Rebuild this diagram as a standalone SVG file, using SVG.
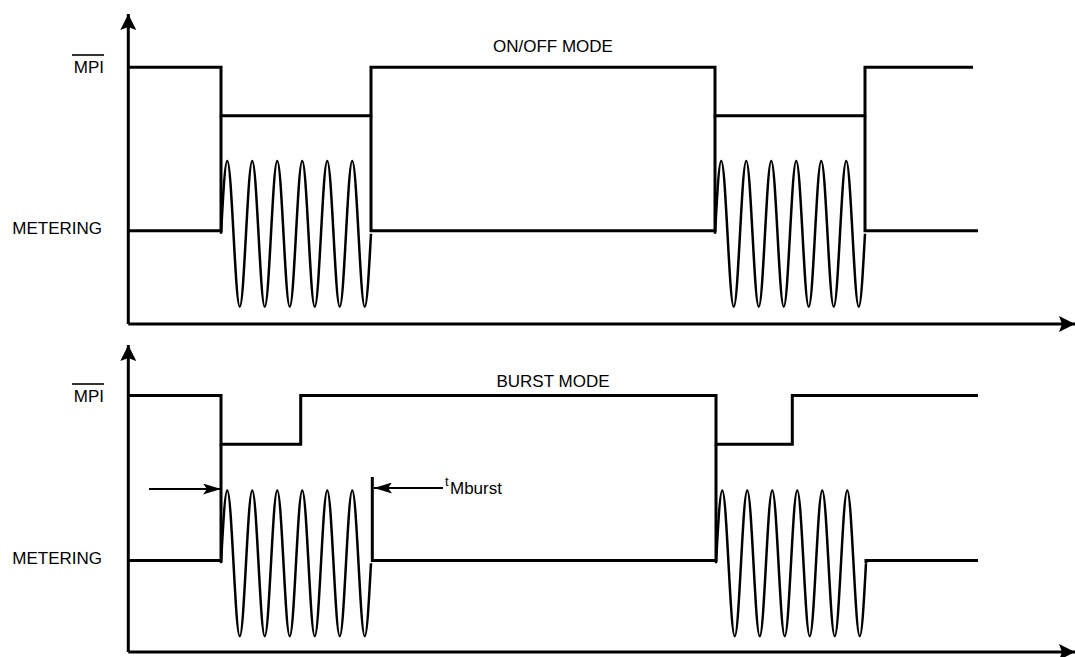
<svg xmlns="http://www.w3.org/2000/svg" xmlns:xlink="http://www.w3.org/1999/xlink" width="1075" height="657" viewBox="0 0 1075 657">
<style>
.sig{fill:none;stroke:#000;stroke-width:3;stroke-linejoin:miter}
.wave{fill:none;stroke:#000;stroke-width:2.5}
.ax{fill:none;stroke:#000;stroke-width:3}
.lbl{font-family:"Liberation Sans",Arial,sans-serif;font-size:17px;fill:#000}
.sub{font-family:"Liberation Sans",Arial,sans-serif;font-size:13px;fill:#000}
.ovl{stroke:#000;stroke-width:1.6}
.dim{stroke:#000;stroke-width:2;fill:none}
</style>
<defs>
<path id="burst" class="wave" d="M0,0 c2.038,-37.35 3.988,-72.9 6.25,-72.9 c2.262,0 4.212,35.55 6.25,72.9 c2.038,37.35 3.988,72.9 6.25,72.9 c2.262,0 4.212,-35.55 6.25,-72.9 c2.038,-37.35 3.988,-72.9 6.25,-72.9 c2.262,0 4.212,35.55 6.25,72.9 c2.038,37.35 3.988,72.9 6.25,72.9 c2.262,0 4.212,-35.55 6.25,-72.9 c2.038,-37.35 3.988,-72.9 6.25,-72.9 c2.262,0 4.212,35.55 6.25,72.9 c2.038,37.35 3.988,72.9 6.25,72.9 c2.262,0 4.212,-35.55 6.25,-72.9 c2.038,-37.35 3.988,-72.9 6.25,-72.9 c2.262,0 4.212,35.55 6.25,72.9 c2.038,37.35 3.988,72.9 6.25,72.9 c2.262,0 4.212,-35.55 6.25,-72.9 c2.038,-37.35 3.988,-72.9 6.25,-72.9 c2.262,0 4.212,35.55 6.25,72.9 c2.038,37.35 3.988,72.9 6.25,72.9 c2.262,0 4.212,-35.55 6.25,-72.9 c2.038,-37.35 3.988,-72.9 6.25,-72.9 c2.262,0 4.212,35.55 6.25,72.9 c2.038,37.35 3.988,72.9 6.25,72.9 c2.262,0 4.212,-35.55 6.25,-72.9"/>
<marker id="ah" viewBox="0 0 18 11" refX="18" refY="5.5" markerWidth="18" markerHeight="11" markerUnits="userSpaceOnUse" orient="auto"><path d="M0,0 L18,5.5 L0,11 L4,5.5 Z" fill="#000"/></marker>
<marker id="axh" viewBox="0 0 16 16" refX="16" refY="8" markerWidth="16" markerHeight="16" markerUnits="userSpaceOnUse" orient="auto"><path d="M0,0 L16,8 L0,16 L3,8 Z" fill="#000"/></marker>
</defs>

<g id="axes">
<path class="ax" d="M128.3,324 V14" marker-end="url(#axh)"/>
<path class="ax" d="M128.3,324 H1075" marker-end="url(#axh)"/>
<path class="ax" d="M128.3,652 V345" marker-end="url(#axh)"/>
<path class="ax" d="M128.3,652 H1075" marker-end="url(#axh)"/>
</g>

<g id="labels">
<text class="lbl" x="553" y="52" text-anchor="middle">ON/OFF MODE</text>
<text class="lbl" x="553" y="387" text-anchor="middle">BURST MODE</text>
<text class="lbl" x="104" y="73" text-anchor="end">MPI</text>
<line class="ovl" x1="72" y1="55" x2="104" y2="55"/>
<text class="lbl" x="102" y="234" text-anchor="end">METERING</text>
<text class="lbl" x="104" y="402" text-anchor="end">MPI</text>
<line class="ovl" x1="72" y1="384" x2="104" y2="384"/>
<text class="lbl" x="102" y="564" text-anchor="end">METERING</text>
</g>

<g id="onoff-mpi">
<path class="sig" d="M128,67.3 H221 V115.7 H371 V67.3 H715 V115.7 H865 V67.3 H973"/>
</g>
<g id="onoff-metering">
<path class="sig" d="M128,230.7 H221 V115.7"/>
<path class="sig" d="M371,115.7 V230.7 H715 V115.7"/>
<path class="sig" d="M865,115.7 V230.7 H978"/>
<use xlink:href="#burst" href="#burst" transform="translate(221,233.8)"/>
<use xlink:href="#burst" href="#burst" transform="translate(715,233.8)"/>
</g>

<g id="burst-mpi">
<path class="sig" d="M128,395.5 H221 V444.3 H300.7 V395.5 H716 V444.3 H792.3 V395.5 H978"/>
</g>
<g id="burst-metering">
<path class="sig" d="M128,560.5 H221 V444.3"/>
<path class="sig" d="M372.3,477 V560.5 H716 V444.3"/>
<path class="sig" d="M866,563 V560.5 H978"/>
<use xlink:href="#burst" href="#burst" transform="translate(221,563.3)"/>
<use xlink:href="#burst" href="#burst" transform="translate(716,563.3)"/>
</g>

<g id="connectors">
<line class="dim" x1="149" y1="489" x2="221" y2="489" marker-end="url(#ah)"/>
<line class="dim" x1="443" y1="488" x2="374" y2="488" marker-end="url(#ah)"/>
</g>
<g id="tmburst">
<text class="sub" x="445" y="486">t</text>
<text class="lbl" x="450" y="494">Mburst</text>
</g>
</svg>
